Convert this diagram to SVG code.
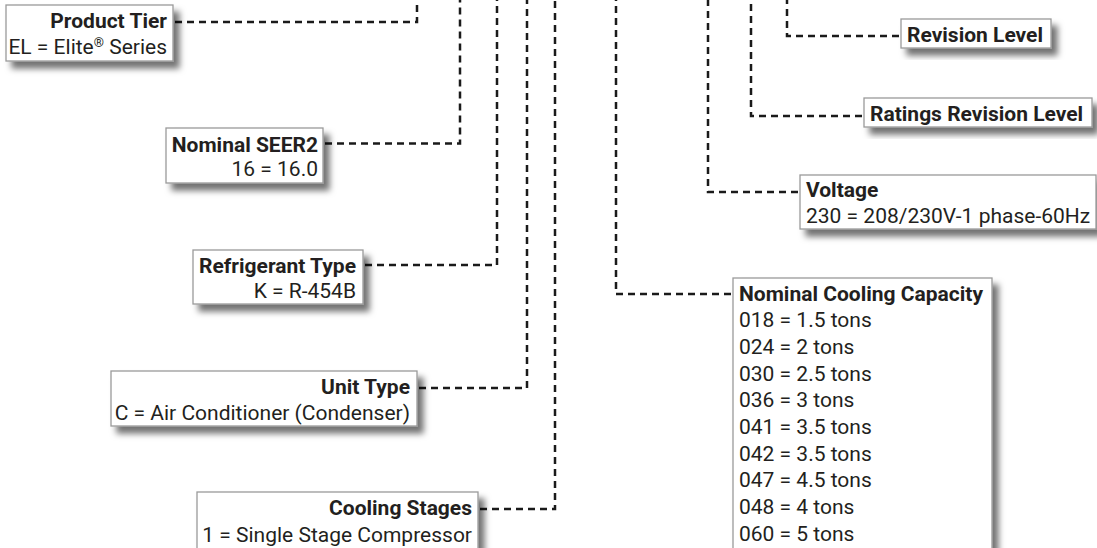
<svg xmlns="http://www.w3.org/2000/svg" width="1097" height="548" viewBox="0 0 1097 548">
<defs>
<filter id="sh" x="-20%" y="-20%" width="150%" height="160%">
<feDropShadow dx="6" dy="7" stdDeviation="3" flood-color="#000" flood-opacity="0.55"/>
</filter>
<style>
.box{fill:#fff;stroke:#9a9a9a;stroke-width:1.3;filter:url(#sh)}
.t{font-family:Roboto,"Liberation Sans",sans-serif;font-size:21px;fill:#231f20}
.b{font-weight:700}
.e{text-anchor:end}
.c{fill:none;stroke:#1a1a1a;stroke-width:2.5;stroke-dasharray:7 5}
</style>
</defs>
<rect width="1097" height="548" fill="#fff"/>
<g id="connectors">
<path class="c" d="M175 22H417V0"/>
<path class="c" d="M325 143.5H460V0"/>
<path class="c" d="M365 265H497V0"/>
<path class="c" d="M419 388H527V0"/>
<path class="c" d="M480 509H555V0"/>
<path class="c" d="M731 294H616V0"/>
<path class="c" d="M798 192H708V0"/>
<path class="c" d="M862 116H751V0"/>
<path class="c" d="M899 36H787V0"/>
</g>
<g id="product-tier">
<rect class="box" x="6" y="5" width="167" height="56"/>
<text class="t b e" x="167" y="28">Product Tier</text>
<text class="t e" x="167" y="54">EL = Elite<tspan font-size="13" baseline-shift="super">®</tspan> Series</text>
</g>
<g id="nominal-seer2">
<rect class="box" x="166" y="128" width="157" height="55"/>
<text class="t b e" x="318" y="152">Nominal SEER2</text>
<text class="t e" x="318" y="176">16 = 16.0</text>
</g>
<g id="refrigerant-type">
<rect class="box" x="193" y="250" width="170" height="54"/>
<text class="t b e" x="356" y="273">Refrigerant Type</text>
<text class="t e" x="356" y="297.5">K = R-454B</text>
</g>
<g id="unit-type">
<rect class="box" x="111" y="371" width="306" height="55"/>
<text class="t b e" x="410" y="393.5">Unit Type</text>
<text class="t e" x="410" y="420">C = Air Conditioner (Condenser)</text>
</g>
<g id="cooling-stages">
<rect class="box" x="197" y="492" width="281" height="58"/>
<text class="t b e" x="472" y="515">Cooling Stages</text>
<text class="t e" x="472" y="541.5">1 = Single Stage Compressor</text>
</g>
<g id="nominal-cooling-capacity">
<rect class="box" x="733" y="278" width="259" height="272"/>
<text class="t b" x="739" y="300.5">Nominal Cooling Capacity</text>
<text class="t" x="739" y="327.3">018 = 1.5 tons</text>
<text class="t" x="739" y="354">024 = 2 tons</text>
<text class="t" x="739" y="380.6">030 = 2.5 tons</text>
<text class="t" x="739" y="407.3">036 = 3 tons</text>
<text class="t" x="739" y="434">041 = 3.5 tons</text>
<text class="t" x="739" y="460.6">042 = 3.5 tons</text>
<text class="t" x="739" y="487.3">047 = 4.5 tons</text>
<text class="t" x="739" y="514">048 = 4 tons</text>
<text class="t" x="739" y="540.6">060 = 5 tons</text>
</g>
<g id="voltage">
<rect class="box" x="800" y="175" width="296" height="54"/>
<text class="t b" x="806" y="197">Voltage</text>
<text class="t" x="806" y="223">230 = 208/230V-1 phase-60Hz</text>
</g>
<g id="ratings-revision-level">
<rect class="box" x="864" y="98" width="228" height="29"/>
<text class="t b" x="870" y="121">Ratings Revision Level</text>
</g>
<g id="revision-level">
<rect class="box" x="901" y="19" width="150" height="29"/>
<text class="t b" x="907" y="42">Revision Level</text>
</g>
</svg>
